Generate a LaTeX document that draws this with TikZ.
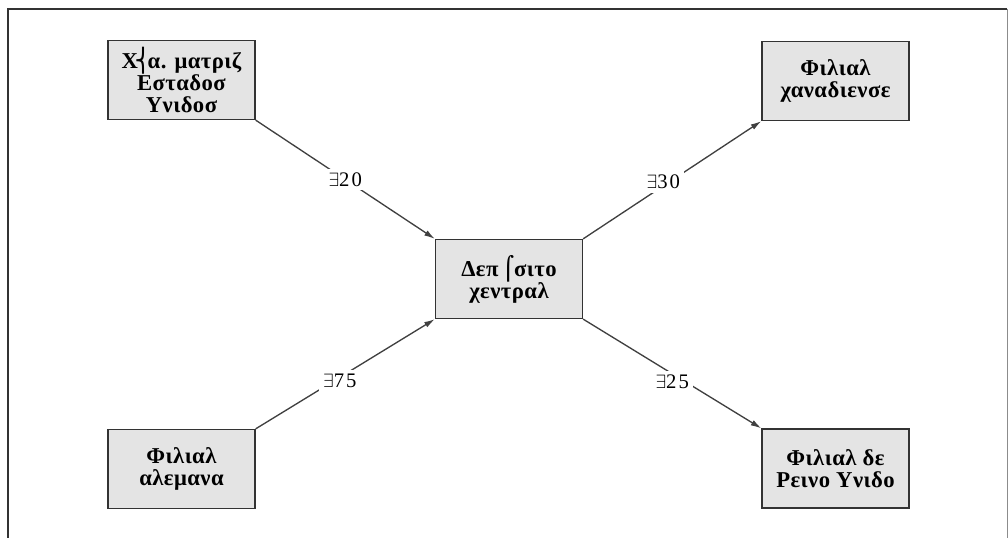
\documentclass[tikz,border=0pt]{standalone}
\usepackage{fontspec}
\setmainfont{Liberation Serif}
\newfontfamily\symfont{DejaVu Sans}
\usetikzlibrary{arrows.meta}
\definecolor{boxfill}{HTML}{E4E4E4}
\definecolor{boxline}{HTML}{333333}
\definecolor{arrowline}{HTML}{404040}
\tikzset{
  box/.style={draw=boxline, line width=1.2pt, fill=boxfill, align=center,
    minimum width=110pt, minimum height=59pt, inner sep=2pt,
    font=\fontsize{17}{16.5}\selectfont\bfseries\addfontfeature{LetterSpace=2}},
  conn/.style={draw=arrowline, line width=1pt, -{Latex[length=8pt,width=4.5pt]}},
  amount/.style={fill=white, inner sep=3pt,
    font=\fontsize{15.5}{16}\selectfont\addfontfeature{LetterSpace=10}},
  frameline/.style={draw=black!80, line width=1.4pt}
}
\begin{document}
\begin{tikzpicture}[x=0.75pt, y=-0.75pt]
  \useasboundingbox (0,0) rectangle (1008,538);
  % outer frame, open at the bottom
  \draw[frameline] (8,538) -- (8,9) -- (1007,9);
  \draw[black!45, line width=0.6pt] (1007,9) -- (1007,538);

  % parent company, central deposit and subsidiaries
  \node[box] (hq)  at (181.5,80)  {Χ\kern-2.5pt{\mdseries\symfont ⎨}\kern-3pt α. ματριζ\\Εσταδοσ\\Υνιδοσ};
  \node[box] (ca)  at (835.5,81)  {Φιλιαλ\\χαναδιενσε};
  \node[box] (dep) at (509,279)   {Δεπ\,{\mdseries\symfont ⌠}σιτο\\χεντραλ};
  \node[box] (de)  at (181.5,469) {Φιλιαλ\\αλεμανα};
  \node[box] (uk)  at (835.5,468.5) {Φιλιαλ δε\\Ρεινο Υνιδο};

  % cash flows with their amounts
  \draw[conn] (hq.south east) -- node[amount]{$\exists$20} (dep.north west);
  \draw[conn] (dep.north east) -- node[amount, pos=0.45, yshift=3pt]{$\exists$30} (ca.south west);
  \draw[conn] (de.north east) -- node[amount, pos=0.47, yshift=-3pt]{$\exists$75} (dep.south west);
  \draw[conn] (dep.south east) -- node[amount, pos=0.5, yshift=-6pt]{$\exists$25} (uk.north west);
\end{tikzpicture}
\end{document}
